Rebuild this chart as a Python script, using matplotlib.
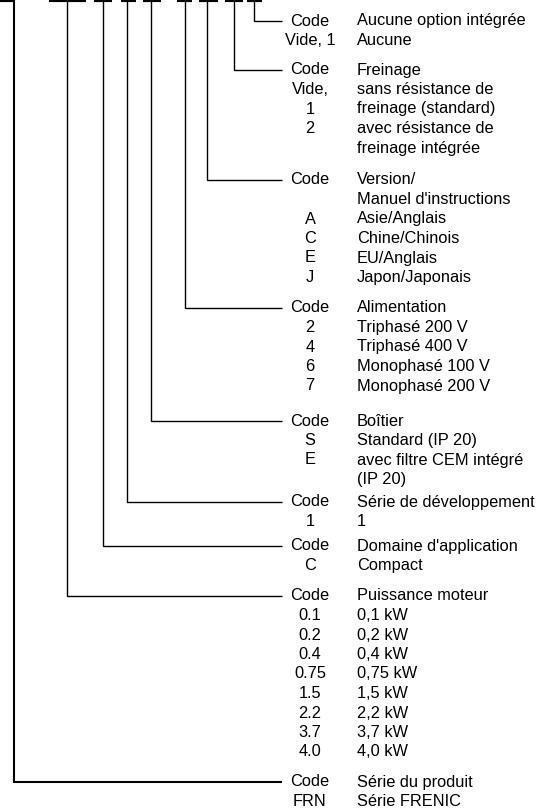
import matplotlib
matplotlib.use('Agg')
import matplotlib.pyplot as plt

# type code groups, from the last character (top) to the first (bottom)
opt_codes = ['Code', 'Vide, 1']
opt_desc = ['Aucune option intégrée', 'Aucune']

brake_codes = ['Code', 'Vide,', '1', '2', '']
brake_desc = ['Freinage', 'sans résistance de', 'freinage (standard)',
              'avec résistance de', 'freinage intégrée']

version_codes = ['Code', '', 'A', 'C', 'E', 'J']
version_desc = ['Version/', "Manuel d'instructions", 'Asie/Anglais',
                'Chine/Chinois', 'EU/Anglais', 'Japon/Japonais']

supply_codes = ['Code', '2', '4', '6', '7']
supply_desc = ['Alimentation', 'Triphasé 200 V', 'Triphasé 400 V',
               'Monophasé 100 V', 'Monophasé 200 V']

enclosure_codes = ['Code', 'S', 'E', '']
enclosure_desc = ['Boîtier', 'Standard (IP 20)', 'avec filtre CEM intégré', '(IP 20)']

dev_codes = ['Code', '1']
dev_desc = ['Série de développement', '1']

app_codes = ['Code', 'C']
app_desc = ["Domaine d'application", 'Compact']

power_codes = ['Code', '0.1', '0.2', '0.4', '0.75', '1.5', '2.2', '3.7', '4.0']
power_desc = ['Puissance moteur', '0,1 kW', '0,2 kW', '0,4 kW', '0,75 kW',
              '1,5 kW', '2,2 kW', '3,7 kW', '4,0 kW']

series_codes = ['Code', 'FRN']
series_desc = ['Série du produit', 'Série FRENIC']

groups = [
    (opt_codes, opt_desc),
    (brake_codes, brake_desc),
    (version_codes, version_desc),
    (supply_codes, supply_desc),
    (enclosure_codes, enclosure_desc),
    (dev_codes, dev_desc),
    (app_codes, app_desc),
    (power_codes, power_desc),
    (series_codes, series_desc),
]

# layout (pixel coordinates, y downwards)
branch_x = [254, 234, 207, 185, 151, 127, 103, 67, 14]
branch_y = [21, 70, 180, 308, 421, 502, 546, 596, 782]
seg_x = [(0, 14), (49, 86), (94, 112), (121, 136), (143, 161),
         (177, 192), (199, 218), (225, 243), (247, 262)]
line_end = 282
code_x = 310
desc_x = 357
row_h = 19.5

plt.rcParams['font.family'] = ['Liberation Sans', 'DejaVu Sans']

fig = plt.figure(figsize=(5.45, 8.10), dpi=100)
ax = fig.add_axes([0, 0, 1, 1])
ax.set_xlim(0, 545)
ax.set_ylim(810, 0)
ax.axis('off')

for x0, x1 in seg_x:
    ax.plot([x0, x1], [0, 0], color='black', lw=3, solid_capstyle='butt')

for i, (codes, desc) in enumerate(groups):
    bx, by = branch_x[i], branch_y[i]
    lw = 1.5 if i == len(groups) - 1 else 1.0
    ax.plot([bx, bx, line_end], [0, by, by], color='black', lw=lw,
            solid_joinstyle='miter', solid_capstyle='butt')
    for j, (c, d) in enumerate(zip(codes, desc)):
        y = by + j * row_h
        if c:
            ax.text(code_x, y, c, ha='center', va='center', fontsize=11.8)
        if d:
            ax.text(desc_x, y, d, ha='left', va='center', fontsize=11.8)

fig.savefig('out.png', dpi=100)
